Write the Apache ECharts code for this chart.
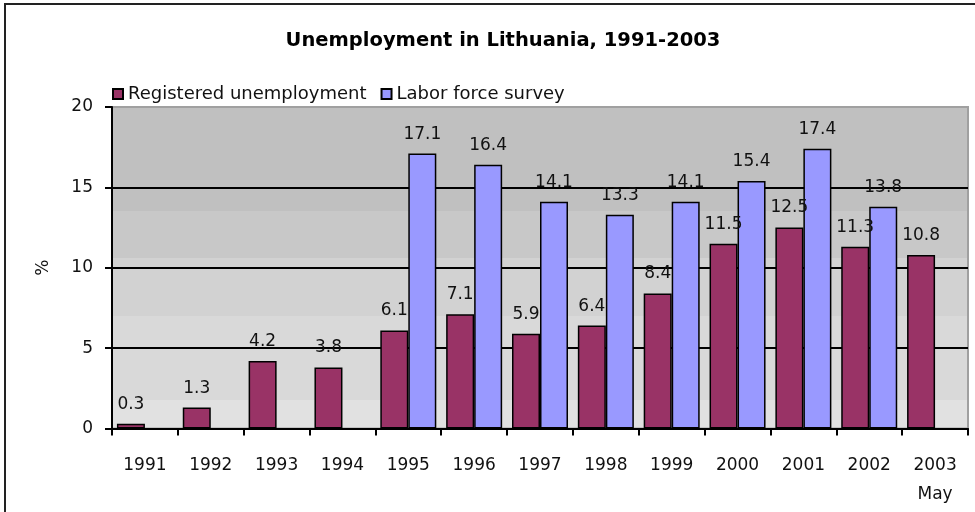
<!DOCTYPE html>
<html>
<head>
<meta charset="utf-8">
<script src="https://cdn.jsdelivr.net/npm/echarts@6/dist/echarts.min.js"></script>
<style>
  html, body { margin: 0; padding: 0; background: #fff; overflow: hidden; }
  #frame { position: absolute; left: 4px; top: 3px; width: 2000px; height: 2000px; border: 2px solid #222; }
  #chart { position: absolute; left: 0; top: 0; width: 975px; height: 512px; }
</style>
</head>
<body>
<div id="frame"></div>
<div id="chart"></div>
<script>
const titleText = 'Unemployment in Lithuania, 1991-2003';
const categories = ['1991', '1992', '1993', '1994', '1995', '1996', '1997', '1998', '1999', '2000', '2001', '2002', '2003\nMay'];
const registeredName = 'Registered unemployment';
const surveyName = 'Labor force survey';
const registered = [0.3, 1.3, 4.2, 3.8, 6.1, 7.1, 5.9, 6.4, 8.4, 11.5, 12.5, 11.3, 10.8];
const survey = [null, null, null, null, 17.1, 16.4, 14.1, 13.3, 14.1, 15.4, 17.4, 13.8, null];
const yTicks = [0, 5, 10, 15, 20];
const yName = '%';

const FONT = 'DejaVu Sans';
const chart = echarts.init(document.getElementById('chart'), null, { renderer: 'canvas' });

const bandBg = new echarts.graphic.LinearGradient(0, 0, 0, 1, [
  { offset: 0, color: '#c0c0c0' },
  { offset: 0.325, color: '#c0c0c0' },
  { offset: 0.325, color: '#c8c8c8' },
  { offset: 0.47, color: '#c8c8c8' },
  { offset: 0.47, color: '#d2d2d2' },
  { offset: 0.65, color: '#d2d2d2' },
  { offset: 0.65, color: '#d9d9d9' },
  { offset: 0.91, color: '#d9d9d9' },
  { offset: 0.91, color: '#e1e1e1' },
  { offset: 1, color: '#e1e1e1' }
]);

const labelCfg = {
  show: true,
  position: 'top',
  distance: 11,
  color: '#111',
  fontFamily: FONT,
  fontSize: 17
};

chart.setOption({
  animation: false,
  backgroundColor: 'transparent',
  title: {
    text: titleText,
    left: 498,
    top: 26,
    textAlign: 'center',
    textStyle: { fontFamily: FONT, fontSize: 19.5, fontWeight: 'bold', color: '#000' }
  },
  legend: {
    left: 107,
    top: 80,
    itemWidth: 10,
    itemHeight: 10,
    itemGap: 14,
    icon: 'rect',
    textStyle: { fontFamily: FONT, fontSize: 18, color: '#111' },
    data: [registeredName, surveyName]
  },
  grid: {
    left: 112,
    right: 7,
    top: 107,
    bottom: 83.5,
    show: true,
    backgroundColor: bandBg,
    borderColor: '#a0a0a0',
    borderWidth: 2,
    containLabel: false
  },
  xAxis: {
    type: 'category',
    data: categories,
    boundaryGap: true,
    axisLine: { lineStyle: { color: '#000', width: 2 } },
    axisTick: { show: true, alignWithLabel: false, length: 7, lineStyle: { color: '#000', width: 2 } },
    axisLabel: { fontFamily: FONT, fontSize: 17, color: '#111', margin: 23, lineHeight: 29, interval: 0 }
  },
  yAxis: {
    type: 'value',
    min: yTicks[0],
    max: yTicks[yTicks.length - 1],
    interval: 5,
    name: yName,
    nameLocation: 'middle',
    nameRotate: 90,
    nameGap: 60,
    nameTextStyle: { fontFamily: FONT, fontSize: 17, color: '#111' },
    axisLine: { show: true, lineStyle: { color: '#000', width: 2 } },
    axisTick: { show: true, length: 7, lineStyle: { color: '#000', width: 2 } },
    axisLabel: { fontFamily: FONT, fontSize: 17, color: '#111', margin: 19 },
    splitLine: { show: true, lineStyle: { color: ['#000', '#000', '#000', '#000', '#a0a0a0'], width: 2 } }
  },
  series: [
    {
      name: registeredName,
      type: 'bar',
      data: registered,
      barWidth: 28,
      barGap: '0%',
      itemStyle: { color: '#993366', borderColor: '#000', borderWidth: 1.5 },
      label: labelCfg
    },
    {
      name: surveyName,
      type: 'bar',
      data: survey,
      barWidth: 28,
      barGap: '0%',
      itemStyle: { color: '#9999ff', borderColor: '#000', borderWidth: 1.5 },
      label: labelCfg
    }
  ]
});
</script>
</body>
</html>
